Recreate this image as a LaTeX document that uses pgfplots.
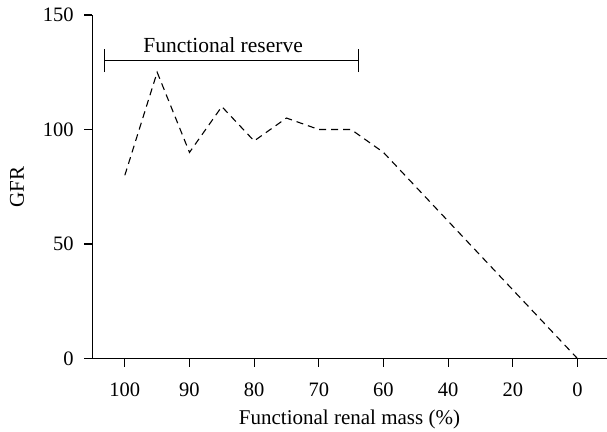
\documentclass[border=0pt]{standalone}
\usepackage{fontspec}
\setmainfont{Liberation Serif}
\usepackage{pgfplots}
\pgfplotsset{compat=1.18}
\begin{document}
\fontsize{20}{24}\selectfont
\begin{tikzpicture}
\begin{axis}[
  scale only axis, width=514pt, height=343.5pt,
  xmin=-0.5, xmax=7.45, ymin=0, ymax=150,
  axis lines=left,
  axis line style={-, line width=1.1pt, black},
  xtick={0,1,2,3,4,5,6,7},
  xticklabels={100,90,80,70,60,40,20,0},
  ytick={0,50,100,150},
  tick align=outside, major tick length=8pt,
  tick style={line width=1.1pt, black},
  /pgf/number format/assume math mode=true,
  every tick label/.append style={font=\fontsize{20.5}{24}\selectfont},
  xticklabel style={yshift=-9pt},
  yticklabel style={xshift=-4pt},
  xlabel={Functional renal mass (\%)},
  ylabel={GFR},
  every axis label/.append style={font=\fontsize{21}{25}\selectfont},
  x label style={at={(axis description cs:0.5,0)}, anchor=center, yshift=-61pt},
  y label style={at={(axis description cs:0,0.5)}, anchor=center, yshift=75.5pt},
  clip=false,
]
\addplot[black, line width=1.1pt, dash pattern=on 7pt off 5pt] coordinates {
  (0,80) (0.5,125) (1,90) (1.5,110) (2,95) (2.5,105) (3,100) (3.5,100) (4,90) (5,60) (6,30) (7,0)
};
\addplot[black, line width=1.1pt] coordinates {(-0.31,130) (3.62,130)};
\addplot[black, line width=1.1pt] coordinates {(-0.31,125) (-0.31,135)};
\addplot[black, line width=1.1pt] coordinates {(3.62,125) (3.62,135)};
\node[anchor=base, font=\fontsize{21.5}{25}\selectfont] at (axis cs:1.52,133.7) {Functional reserve};
\end{axis}
\pgfresetboundingbox
\path (current axis.south west) ++(-92.5pt,-72.5pt) rectangle ++(607pt,431pt);
\end{tikzpicture}
\end{document}
